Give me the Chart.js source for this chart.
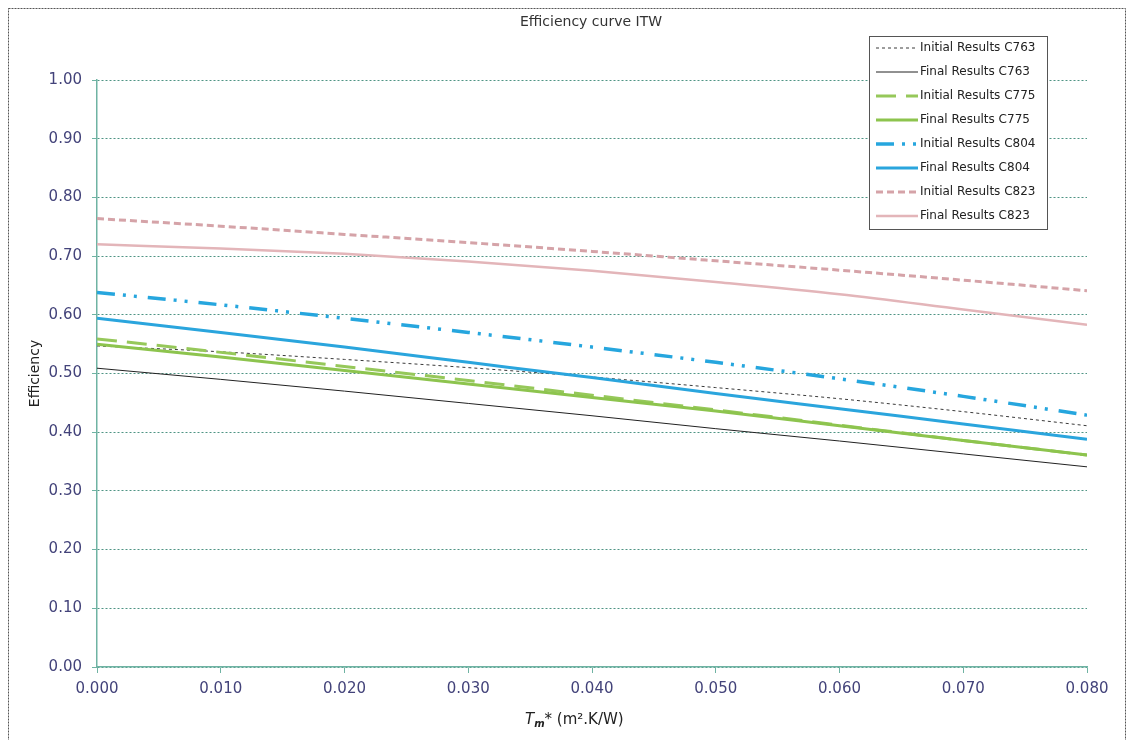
<!DOCTYPE html>
<html>
<head>
<meta charset="utf-8">
<script src="https://cdn.jsdelivr.net/npm/chart.js@4.4.1/dist/chart.umd.min.js"></script>
<style>
html,body{margin:0;padding:0;background:#fff;}
canvas{display:block;}
</style>
</head>
<body>
<canvas id="c" width="1129" height="740"></canvas>
<script>
// ---- data ----
const xValues = [0.000, 0.010, 0.020, 0.030, 0.040, 0.050, 0.060, 0.070, 0.080];
const xTickLabels = ["0.000","0.010","0.020","0.030","0.040","0.050","0.060","0.070","0.080"];
const yTickLabels = ["0.00","0.10","0.20","0.30","0.40","0.50","0.60","0.70","0.80","0.90","1.00"];
const seriesNames = ["Initial Results C763","Final Results C763","Initial Results C775","Final Results C775","Initial Results C804","Final Results C804","Initial Results C823","Final Results C823"];
const initialC763 = [0.547, 0.537, 0.524, 0.510, 0.494, 0.476, 0.457, 0.435, 0.411];
const finalC763   = [0.509, 0.490, 0.470, 0.449, 0.428, 0.406, 0.385, 0.363, 0.341];
const initialC775 = [0.559, 0.536, 0.512, 0.488, 0.463, 0.438, 0.412, 0.386, 0.361];
const finalC775   = [0.550, 0.528, 0.505, 0.482, 0.459, 0.436, 0.411, 0.386, 0.361];
const initialC804 = [0.638, 0.617, 0.594, 0.570, 0.545, 0.519, 0.491, 0.461, 0.429];
const finalC804   = [0.594, 0.570, 0.545, 0.519, 0.493, 0.466, 0.440, 0.414, 0.388];
const initialC823 = [0.764, 0.751, 0.737, 0.723, 0.708, 0.692, 0.676, 0.659, 0.641];
const finalC823   = [0.720, 0.713, 0.704, 0.691, 0.675, 0.656, 0.635, 0.609, 0.583];
const title = "Efficiency curve ITW";
const yTitle = "Efficiency";

const seriesValues = [initialC763, finalC763, initialC775, finalC775, initialC804, finalC804, initialC823, finalC823];
const styles = [
  {color:'#3a3a3a', width:1,   dash:[3,3]},
  {color:'#222222', width:1,   dash:[]},
  {color:'#96c85a', width:3,   dash:[20,10]},
  {color:'#8dc44e', width:3,   dash:[]},
  {color:'#26a6de', width:3.5, dash:[18,8,3,8,3,11]},
  {color:'#2aa5dd', width:3,   dash:[]},
  {color:'#d5a3a8', width:3,   dash:[7,4]},
  {color:'#e3b5b9', width:2.5, dash:[]}
];

const datasets = seriesValues.map((vals, i) => ({
  label: seriesNames[i],
  data: xValues.map((x, j) => ({x: x, y: vals[j]})),
  borderColor: styles[i].color,
  borderWidth: styles[i].width,
  borderDash: styles[i].dash,
  pointRadius: 0,
  showLine: true,
  fill: false,
  tension: 0.4,
  cubicInterpolationMode: 'monotone',
  order: seriesValues.length - i
}));

const TEAL = '#6fb3a3';
const GRID = '#4f9484';
const TICKCOL = '#43437a';
const FONT = "'DejaVu Sans', Verdana, sans-serif";

const decor = {
  id: 'decor',
  afterDraw(chart) {
    const ctx = chart.ctx;
    const ca = chart.chartArea;
    ctx.save();
    // outer dashed frame
    ctx.strokeStyle = '#555';
    ctx.lineWidth = 1;
    ctx.setLineDash([2,1]);
    ctx.strokeRect(8.5, 8.5, 1117, 745);
    ctx.setLineDash([]);
    // title
    ctx.fillStyle = '#333';
    ctx.font = "14px " + FONT;
    ctx.textAlign = 'center';
    ctx.textBaseline = 'middle';
    ctx.fillText(title, 591, 22);
    // y title
    ctx.save();
    ctx.translate(35, (ca.top + ca.bottom) / 2);
    ctx.rotate(-Math.PI / 2);
    ctx.font = "14px " + FONT;
    ctx.fillStyle = '#222';
    ctx.fillText(yTitle, 0, 0);
    ctx.restore();
    // x title: T_m* (m².K/W)
    const parts = [
      {t:'T', f:"italic 15px " + FONT, dy:0},
      {t:'m', f:"italic bold 10px " + FONT, dy:3},
      {t:'* (m\u00B2.K/W)', f:"15px " + FONT, dy:0}
    ];
    let total = 0;
    parts.forEach(p => { ctx.font = p.f; p.w = ctx.measureText(p.t).width; total += p.w; });
    let x = 525;
    ctx.textAlign = 'left';
    ctx.textBaseline = 'alphabetic';
    ctx.fillStyle = '#222';
    parts.forEach(p => { ctx.font = p.f; ctx.fillText(p.t, x, 724 + p.dy); x += p.w; });
    // legend
    const lx = 869.5, ly = 36.5, lw = 178, lh = 193;
    ctx.fillStyle = '#fff';
    ctx.fillRect(lx, ly, lw, lh);
    ctx.strokeStyle = '#555';
    ctx.lineWidth = 1;
    ctx.strokeRect(lx, ly, lw, lh);
    ctx.font = "12px " + FONT;
    ctx.textBaseline = 'middle';
    chart.data.datasets.forEach((ds, i) => {
      const y = 48 + i * 24;
      ctx.save();
      ctx.strokeStyle = ds.borderColor;
      ctx.lineWidth = ds.borderWidth;
      ctx.setLineDash(ds.borderDash);
      ctx.beginPath();
      ctx.moveTo(876, y);
      ctx.lineTo(918, y);
      ctx.stroke();
      ctx.restore();
      ctx.fillStyle = '#222';
      ctx.fillText(ds.label, 920, y);
    });
    ctx.restore();
  }
};

new Chart(document.getElementById('c'), {
  type: 'scatter',
  data: { datasets },
  plugins: [decor],
  options: {
    responsive: false,
    animation: false,
    events: [],
    layout: { padding: { left: 0, right: 42, top: 80, bottom: 0 } },
    plugins: { legend: { display: false }, title: { display: false }, tooltip: { enabled: false } },
    scales: {
      x: {
        type: 'linear', min: 0, max: 0.08,
        afterFit(scale) { scale.height = 73; },
        afterBuildTicks(scale) { scale.ticks = xValues.map(v => ({value: v})); },
        ticks: {
          color: TICKCOL, font: { family: FONT, size: 15 }, padding: 7, maxRotation: 0,
          callback: (v, i) => xTickLabels[i]
        },
        grid: { drawOnChartArea: false, drawTicks: true, tickLength: 6, color: TEAL, tickColor: TEAL, lineWidth: 1 },
        border: { display: true, color: TEAL, width: 1.5 }
      },
      y: {
        type: 'linear', min: 0, max: 1,
        afterFit(scale) { scale.width = 97; },
        afterBuildTicks(scale) { scale.ticks = yTickLabels.map(t => ({value: parseFloat(t)})); },
        ticks: {
          color: TICKCOL, font: { family: FONT, size: 15 }, padding: 10,
          callback: (v, i) => yTickLabels[i]
        },
        grid: { drawOnChartArea: true, drawTicks: true, tickLength: 5, color: GRID, tickColor: TEAL, lineWidth: 1 },
        border: { display: true, color: TEAL, width: 1.5, dash: [2,2] }
      }
    }
  }
});
</script>
</body>
</html>
